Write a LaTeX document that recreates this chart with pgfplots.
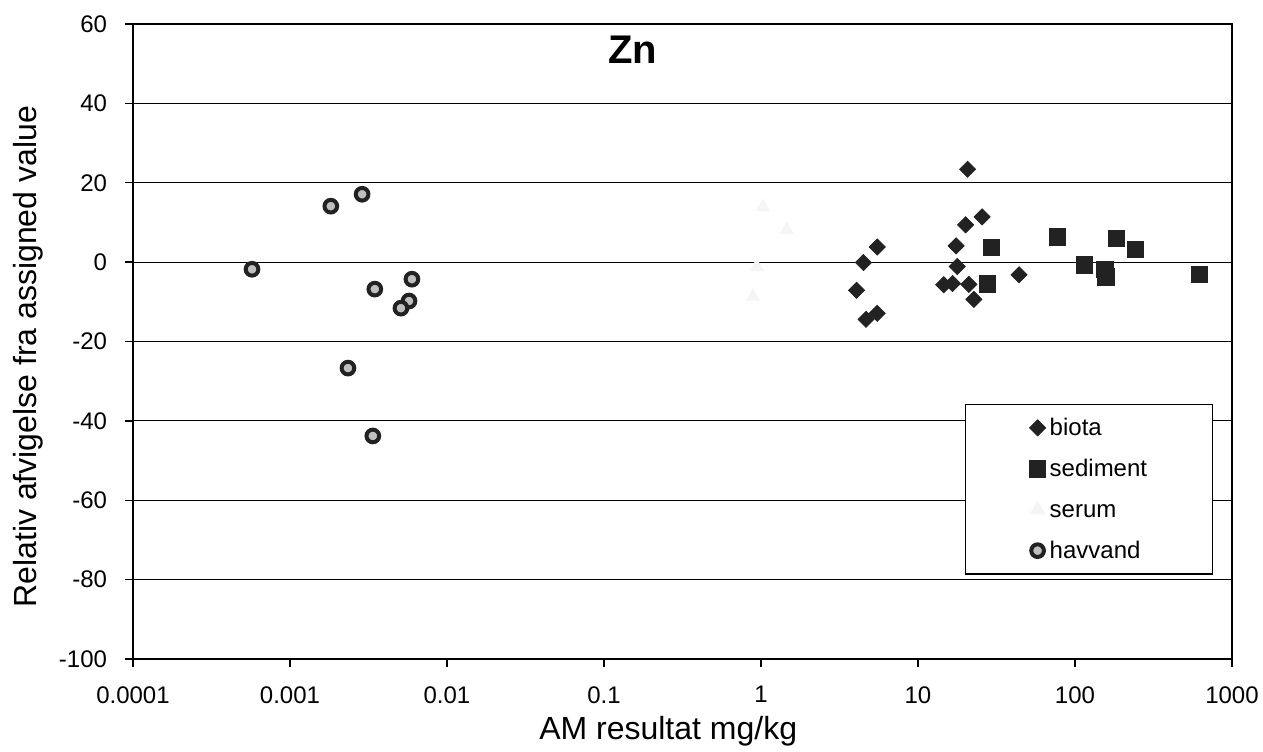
\documentclass[border=0pt]{standalone}
\usepackage{fontspec}
\setmainfont{Liberation Sans}
\usepackage{pgfplots}
\pgfplotsset{compat=1.18}
\definecolor{ink}{HTML}{222222}
\begin{document}
\begin{tikzpicture}
\useasboundingbox (-99.75pt,-69pt) rectangle (847.5pt,494.25pt);
\begin{axis}[
  scale only axis,
  width=824.25pt, height=476.25pt,
  xmode=log,
  xmin=1e-4, xmax=1000,
  ymin=-100, ymax=60,
  xtick={1e-4,1e-3,1e-2,1e-1,1,10,100,1000},
  xticklabels={0.0001,0.001,0.01,0.1,1,10,100,1000},
  xminorticks=false,
  ytick={-100,-80,...,60},
  xtick pos=bottom, ytick pos=left,
  /pgf/number format/assume math mode=true,
  tick label style={font=\fontsize{18}{21}\selectfont},
  xticklabel style={yshift=-11pt},
  yticklabel style={xshift=-10pt},
  tick align=outside,
  major tick length=6pt,
  tick style={black, line width=1pt},
  axis line style={black, line width=1.5pt},
  ymajorgrids,
  major grid style={black, line width=0.9pt},
  xlabel={AM resultat mg/kg},
  ylabel={Relativ afvigelse fra assigned value},
  label style={font=\fontsize{24}{28}\selectfont},
  xlabel style={at={(axis description cs:0.487,-0.113)}, anchor=center},
  ylabel style={at={(axis description cs:-0.0951,0.476)}, anchor=center, rotate=0},
  legend style={at={(0.9827,0.4016)}, anchor=north east, draw=black, line width=0.8pt,
    font=\fontsize{18}{21}\selectfont, inner xsep=48pt, inner ysep=9.5pt, row sep=14.7pt,
    nodes={inner sep=1pt, text height=13pt, text depth=1pt},
    /tikz/every odd column/.append style={column sep=2pt}},
  legend cell align=left,
  clip=false,
]
\addplot[only marks, mark=square*, mark size=4.3pt, mark options={rotate=45, fill=ink, draw=ink, line width=0.5pt}]
  coordinates {
  (20.7,23.4) (25.6,11.4) (20.1,9.4) (17.5,4.1) (5.5,3.8) (4.49,-0.1)
  (17.8,-1.1) (4.06,-7.1) (14.6,-5.7) (16.6,-5.4) (21.1,-5.6) (22.7,-9.4)
  (44,-3.2) (4.67,-14.4) (5.5,-12.9)
  };
\addlegendentry{biota}
\addplot[only marks, mark=square*, mark size=6.1pt, mark options={fill=ink, draw=ink, line width=0.5pt}]
  coordinates {
  (29.4,3.7) (27.6,-5.5) (77.1,6.4) (115,-0.7) (155,-1.8) (157,-3.7)
  (183,6.0) (241,3.2) (622,-3.0)
  };
\addlegendentry{sediment}
\addplot[only marks, mark=triangle*, mark size=6pt, mark options={fill=black!4, draw=black!4}]
  coordinates {
  (1.46,8.1) (0.94,-1.2) (0.89,-8.7) (1.03,13.9)
  };
\addlegendentry{serum}
\addplot[only marks, mark=*, mark size=4.75pt, mark options={fill=gray!50, draw=ink, line width=3pt}]
  coordinates {
  (0.000573,-1.8) (0.00182,14.1) (0.00288,17.1) (0.00347,-6.8) (0.00598,-4.3)
  (0.00573,-9.8) (0.00509,-11.6) (0.00234,-26.7) (0.00337,-43.8)
  };
\addlegendentry{havvand}
\node[font=\bfseries\fontsize{30}{36}\selectfont] at (axis cs:0.153,53.4) {Zn};
\end{axis}
\end{tikzpicture}
\end{document}
